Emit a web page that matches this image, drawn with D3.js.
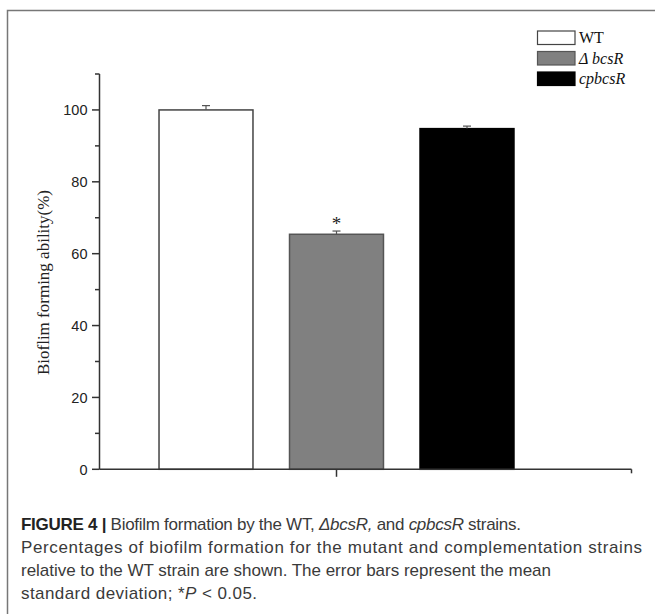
<!DOCTYPE html>
<html>
<head>
<meta charset="utf-8">
<script src="https://cdn.jsdelivr.net/npm/d3@7"></script>
<style>
    body { margin: 0; background: #fff; }
    svg { display: block; }
</style>
</head>
<body>
<div id="chart"></div>
<script>
const strains = ["WT", "Δ bcsR", "cpbcsR"];
const biofilm = [100, 65.4, 94.8];
const errors = [1.2, 0.9, 0.7];
const significant = [false, true, false];
const yTicks = [0, 20, 40, 60, 80, 100];
const yMinorTicks = [10, 30, 50, 70, 90, 110];
const fills = ["#ffffff", "#808080", "#000000"];
const strokes = ["#444444", "#555555", "#000000"];

const width = 655, height = 614;
const plotLeft = 99.5, plotRight = 631.5, plotTop = 74, plotBottom = 469.3;

let svg = d3.select("#chart").append("svg")
    .attr("width", width)
    .attr("height", height);

// outer frame of the figure (only top and left edges are visible)
svg.append("path")
    .attr("d", `M7.5,${height} V10.5 H${width}`)
    .attr("fill", "none")
    .attr("stroke", "#777")
    .attr("stroke-width", 1.5);

let y = d3.scaleLinear().domain([0, 110]).range([plotBottom, plotTop]);
let x = d3.scaleBand()
    .domain(strains)
    .range([140.75, 532.25])
    .paddingInner(0.28)
    .paddingOuter(0.14);

// bars
svg.selectAll(".bar")
    .data(strains)
    .enter().append("rect")
    .attr("class", "bar")
    .attr("x", d => x(d))
    .attr("y", (d, i) => y(biofilm[i]))
    .attr("width", x.bandwidth())
    .attr("height", (d, i) => y(0) - y(biofilm[i]))
    .attr("fill", (d, i) => fills[i])
    .attr("stroke", (d, i) => strokes[i])
    .attr("stroke-width", 1.5);

// error bars (upper half only)
let err = svg.selectAll(".err")
    .data(strains)
    .enter().append("g")
    .attr("class", "err")
    .attr("stroke", "#555")
    .attr("stroke-width", 1.2);
err.append("line")
    .attr("x1", d => x(d) + x.bandwidth() / 2)
    .attr("x2", d => x(d) + x.bandwidth() / 2)
    .attr("y1", (d, i) => y(biofilm[i]))
    .attr("y2", (d, i) => y(biofilm[i] + errors[i]));
err.append("line")
    .attr("x1", d => x(d) + x.bandwidth() / 2 - 4)
    .attr("x2", d => x(d) + x.bandwidth() / 2 + 4)
    .attr("y1", (d, i) => y(biofilm[i] + errors[i]))
    .attr("y2", (d, i) => y(biofilm[i] + errors[i]));

svg.selectAll(".star")
    .data(strains.filter((d, i) => significant[i]))
    .enter().append("text")
    .attr("class", "star")
    .attr("x", d => x(d) + x.bandwidth() / 2)
    .attr("y", d => y(biofilm[strains.indexOf(d)] + errors[strains.indexOf(d)]) - 1.5)
    .attr("text-anchor", "middle")
    .attr("font-family", "Liberation Serif")
    .attr("font-size", 19)
    .attr("fill", "#222")
    .text("*");

// y axis
let yAxis = svg.append("g")
    .attr("transform", `translate(${plotLeft},0)`);
yAxis.append("line")
    .attr("y1", y(0)).attr("y2", y(110))
    .attr("stroke", "#333").attr("stroke-width", 1.5);
yAxis.selectAll(".minor")
    .data(yMinorTicks)
    .enter().append("line")
    .attr("x1", -4.5).attr("x2", 0)
    .attr("y1", d => y(d)).attr("y2", d => y(d))
    .attr("stroke", "#333").attr("stroke-width", 1.5);
yAxis.selectAll(".major")
    .data(yTicks)
    .enter().append("line")
    .attr("x1", -7.5).attr("x2", 0)
    .attr("y1", d => y(d)).attr("y2", d => y(d))
    .attr("stroke", "#333").attr("stroke-width", 1.5);
yAxis.selectAll(".label")
    .data(yTicks)
    .enter().append("text")
    .attr("x", -12)
    .attr("y", d => y(d))
    .attr("dy", "0.36em")
    .attr("text-anchor", "end")
    .attr("font-family", "Liberation Sans, Arial, sans-serif")
    .attr("font-size", 14.5)
    .attr("fill", "#222")
    .text(d => d);

svg.append("text")
    .attr("transform", "translate(48.5,282.5) rotate(-90)")
    .attr("text-anchor", "middle")
    .attr("font-family", "Liberation Serif, Times New Roman, serif")
    .attr("font-size", 17)
    .attr("fill", "#222")
    .text("Bioflim forming ability(%)");

// x axis: one tick under the middle bar, plus end tick
let xAxis = svg.append("g");
xAxis.append("line")
    .attr("x1", plotLeft).attr("x2", plotRight)
    .attr("y1", plotBottom).attr("y2", plotBottom)
    .attr("stroke", "#333").attr("stroke-width", 1.5);
xAxis.append("line")
    .attr("x1", x(strains[1]) + x.bandwidth() / 2)
    .attr("x2", x(strains[1]) + x.bandwidth() / 2)
    .attr("y1", plotBottom).attr("y2", plotBottom + 7.5)
    .attr("stroke", "#333").attr("stroke-width", 1.5);
xAxis.append("line")
    .attr("x1", plotRight).attr("x2", plotRight)
    .attr("y1", plotBottom).attr("y2", plotBottom + 4)
    .attr("stroke", "#333").attr("stroke-width", 1.5);

// legend
let legend = svg.selectAll(".legend")
    .data(strains)
    .enter().append("g")
    .attr("class", "legend")
    .attr("transform", (d, i) => `translate(537.5,${31 + i * 20.5})`);
legend.append("rect")
    .attr("width", 37.5)
    .attr("height", 13.5)
    .attr("fill", (d, i) => fills[i])
    .attr("stroke", (d, i) => strokes[i])
    .attr("stroke-width", 1.2);
legend.append("text")
    .attr("x", 41.5)
    .attr("y", 12.3)
    .attr("font-family", "Liberation Serif, Times New Roman, serif")
    .attr("font-size", 16)
    .attr("font-style", (d, i) => i === 0 ? "normal" : "italic")
    .attr("fill", "#111")
    .text(d => d);

// caption, one text element per line so each can be fitted to its width
const caption = [
    [["FIGURE 4 | ", "bold"], ["Biofilm formation by the WT, ", ""], ["ΔbcsR,", "italic"], [" and ", ""], ["cpbcsR", "italic"], [" strains.", ""]],
    [["Percentages of biofilm formation for the mutant and complementation strains", ""]],
    [["relative to the WT strain are shown. The error bars represent the mean", ""]],
    [["standard deviation; *", ""], ["P", "italic"], [" < 0.05.", ""]]
];
const captionWidths = [500, 621, 530, 236];
caption.forEach((line, li) => {
    let t = svg.append("text")
        .attr("x", 21)
        .attr("y", 530 + li * 23)
        .attr("font-family", "Liberation Sans, Arial, sans-serif")
        .attr("font-size", 17)
        .attr("fill", "#3a3a3a")
        .attr("textLength", captionWidths[li])
        .attr("lengthAdjust", "spacing");
    line.forEach(part => {
        let s = t.append("tspan").text(part[0]);
        if (part[1] === "bold") s.attr("font-weight", "bold").attr("fill", "#222");
        if (part[1] === "italic") s.attr("font-style", "italic");
    });
});
</script>
</body>
</html>
